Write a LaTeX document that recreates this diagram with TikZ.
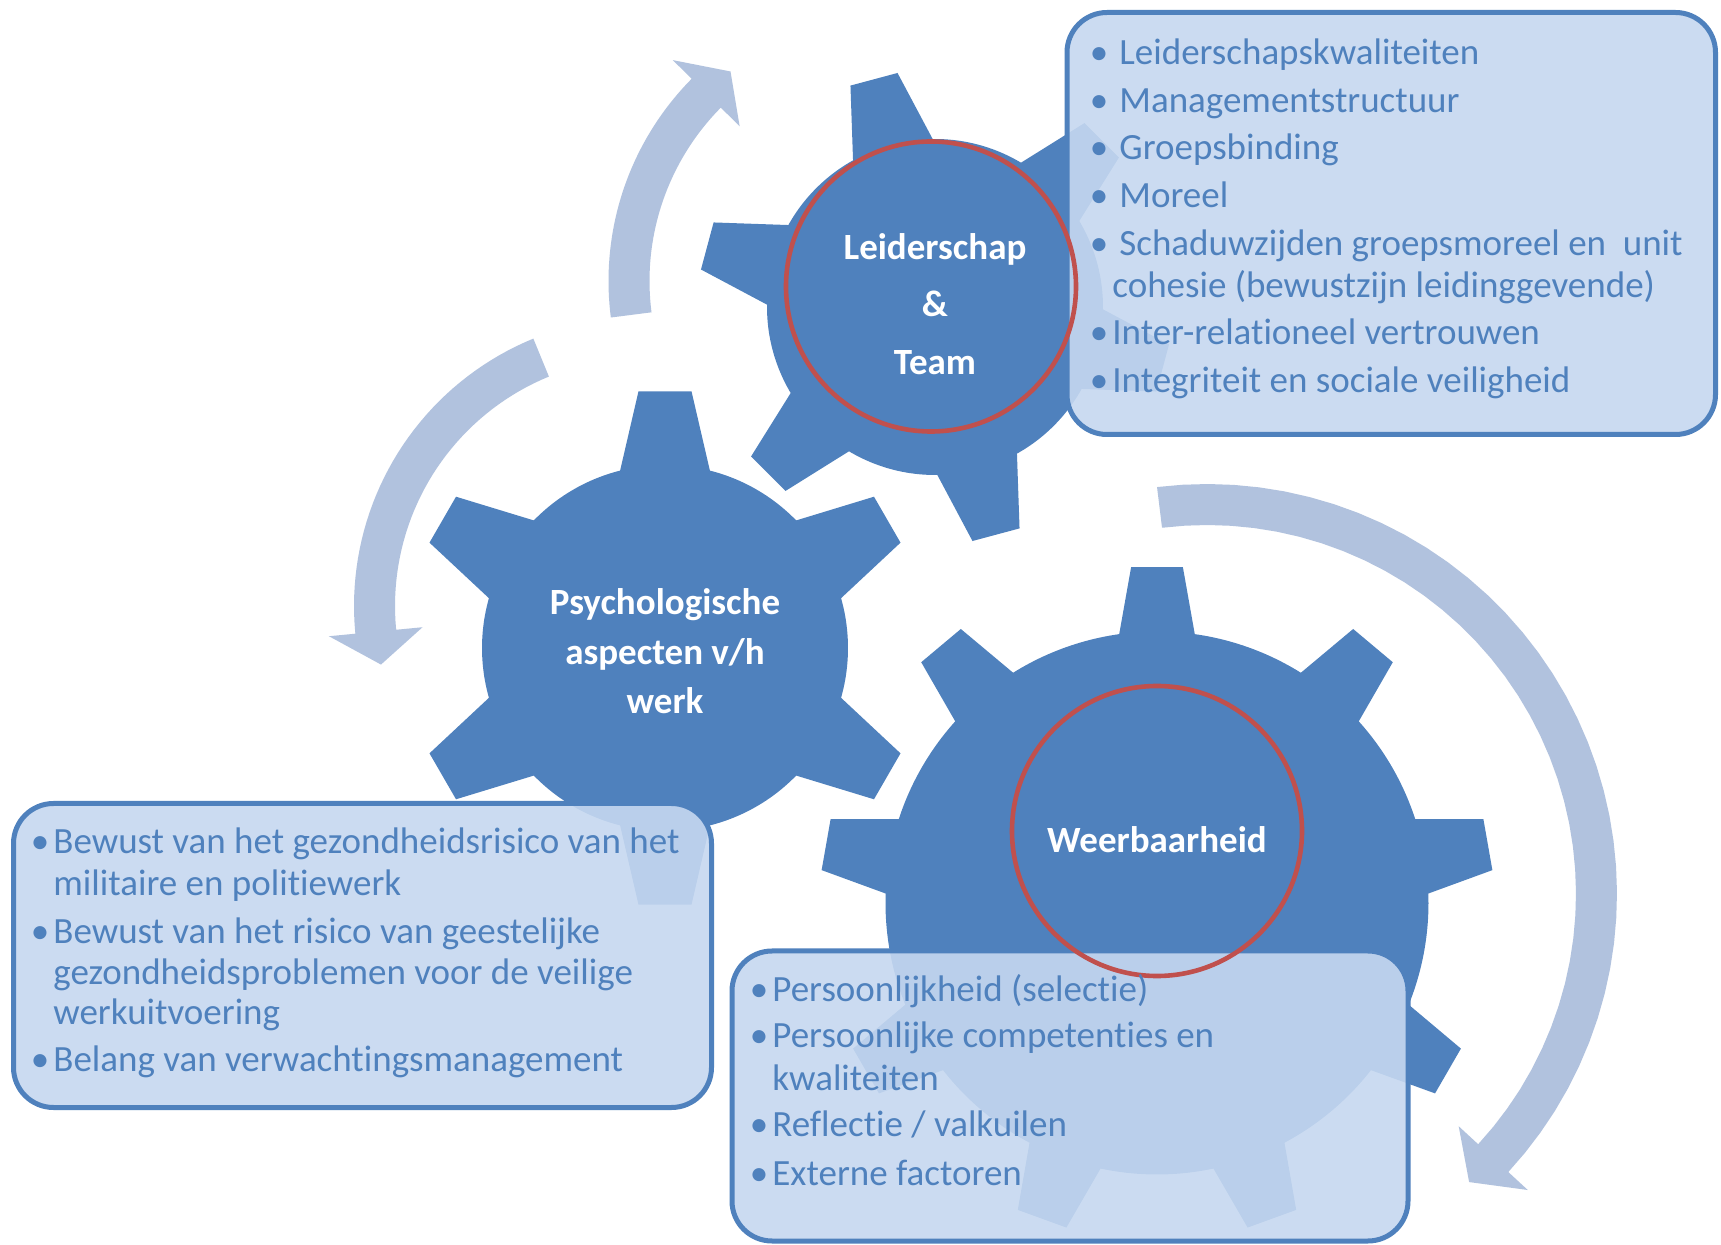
\documentclass[tikz,border=0pt]{standalone}
\usepackage{fontspec}
\setmainfont{Carlito}[RawFeature={-liga;-clig;-dlig;-calt}]
\definecolor{gearblue}{HTML}{4F81BD}
\definecolor{ringred}{HTML}{C0504D}
\definecolor{arrowgrey}{HTML}{B1C2DE}
\definecolor{boxfill}{HTML}{C6D8F0}
\definecolor{txtblue}{HTML}{4F81BD}

% cx cy R rt N lastidx phase tiphalf basehalf
\newcommand{\gearshape}[9]{%
  \fill[gearblue] ({#1+#3*cos(#7-#9)},{#2-#3*sin(#7-#9)})
  \foreach \gk [evaluate=\gk as \ga using #7+\gk*360/#5] in {0,...,#6} {
    -- ({#1+#4*cos(\ga-#8)},{#2-#4*sin(\ga-#8)})
    -- ({#1+#4*cos(\ga+#8)},{#2-#4*sin(\ga+#8)})
    -- ({#1+#3*cos(\ga+#9)},{#2-#3*sin(\ga+#9)})
    -- plot[domain=\ga+#9:\ga+360/#5-#9, samples=24, variable=\gx] ({#1+#3*cos(\gx)},{#2-#3*sin(\gx)})
  } -- cycle;
}
% cx cy r tail junction tip
\newcommand{\circarrow}[6]{%
  \fill[arrowgrey]
    plot[domain=#4:#5, samples=40, variable=\ax] ({#1+(#3+20.5)*cos(\ax)},{#2-(#3+20.5)*sin(\ax)})
    -- ({#1+(#3+47)*cos(#5)},{#2-(#3+47)*sin(#5)})
    -- ({#1+#3*cos(#6)},{#2-#3*sin(#6)})
    -- ({#1+(#3-47)*cos(#5)},{#2-(#3-47)*sin(#5)})
    -- plot[domain=#5:#4, samples=40, variable=\ax] ({#1+(#3-20.5)*cos(\ax)},{#2-(#3-20.5)*sin(\ax)})
    -- cycle;
}

\tikzset{
  glabel/.style={anchor=base, inner sep=0, text=white, font=\fontsize{18.5}{21}\selectfont\bfseries},
  itemtxt/.style={anchor=base west, inner sep=0, text=txtblue, font=\fontsize{18.5}{21}\selectfont},
  bul/.style={anchor=base, inner sep=0, text=txtblue, font=\fontsize{18.5}{21}\selectfont},
  infobox/.style={rectangle, draw=gearblue, line width=2.5pt, fill=boxfill, fill opacity=0.9, rounded corners=20pt, inner sep=0},
  ring/.style={circle, draw=ringred, line width=2.3pt, inner sep=0, minimum size=145pt},
}

\begin{document}
\begin{tikzpicture}[x=0.5pt, y=-0.5pt]
\useasboundingbox (0,0) rectangle (1721,1245);
\fill[white] (0,0) rectangle (1721,1245);

% circular arrows
\circarrow{896}{281}{267}{187.3}{135.3}{128.3}
\circarrow{643}{606}{268.5}{112.3}{185.5}{192.6}
\circarrow{1207}{894}{389.5}{97}{-42.7}{-47.7}

% gears
\gearshape{935}{307}{168}{237}{6}{5}{45}{5.9}{14.2}
\gearshape{665}{648}{183}{258}{6}{5}{30}{5.9}{14.2}
\gearshape{1157}{903}{271.5}{337}{9}{8}{10}{4.4}{8.0}

% text boxes
\node[infobox, minimum width=324.25pt, minimum height=211pt] (boxTR) at (1391.25,223.5) {};
\node[infobox, minimum width=349pt, minimum height=152pt] (boxBL) at (362.5,955.5) {};
\node[infobox, minimum width=338pt, minimum height=145pt] (boxBR) at (1070,1096) {};

% red rings
\node[ring] (ring1) at (931,286.5) {};
\node[ring] (ring3) at (1157,831) {};

% gear labels
\node[glabel] (g1a) at (935,260) {Leiderschap};
\node[glabel] (g1b) at (935,317) {\&};
\node[glabel] (g1c) at (935,375) {Team};
\node[glabel] (g2a) at (665,615) {Psychologische};
\node[glabel] (g2b) at (665,665) {aspecten v/h};
\node[glabel] (g2c) at (665,714) {werk};
\node[glabel] (g3a) at (1157,852.5) {Weerbaarheid};

% top right list
\node[bul] (tb1) at (1099,65) {•};
\node[bul] (tb2) at (1099,113) {•};
\node[bul] (tb3) at (1099,160) {•};
\node[bul] (tb4) at (1099,207.5) {•};
\node[bul] (tb5) at (1099,255.5) {•};
\node[bul] (tb6) at (1099,344.5) {•};
\node[bul] (tb7) at (1099,393) {•};
\node[itemtxt] (tt1) at (1119,65) {Leiderschapskwaliteiten};
\node[itemtxt] (tt2) at (1119,113) {Managementstructuur};
\node[itemtxt] (tt3) at (1119,160) {Groepsbinding};
\node[itemtxt] (tt4) at (1119,207.5) {Moreel};
\node[itemtxt] (tt5) at (1119,255.5) {Schaduwzijden groepsmoreel en\ \ unit};
\node[itemtxt] (tt5b) at (1112,297.5) {cohesie (bewustzijn leidinggevende)};
\node[itemtxt] (tt6) at (1112,344.5) {Inter-relationeel vertrouwen};
\node[itemtxt] (tt7) at (1112,393) {Integriteit en sociale veiligheid};

% bottom left list
\node[bul] (lb1) at (40,854) {•};
\node[bul] (lb2) at (40,943.5) {•};
\node[bul] (lb3) at (40,1072) {•};
\node[itemtxt] (lt1) at (53,854) {Bewust van het gezondheidsrisico van het};
\node[itemtxt] (lt1b) at (53,895.5) {militaire en politiewerk};
\node[itemtxt] (lt2) at (53,943.5) {Bewust van het risico van geestelijke};
\node[itemtxt] (lt2b) at (53,984.5) {gezondheidsproblemen voor de veilige};
\node[itemtxt] (lt2c) at (53,1025) {werkuitvoering};
\node[itemtxt] (lt3) at (53,1072) {Belang van verwachtingsmanagement};

% bottom right list
\node[bul] (rb1) at (759,1001) {•};
\node[bul] (rb2) at (759,1048) {•};
\node[bul] (rb3) at (759,1137) {•};
\node[bul] (rb4) at (759,1185) {•};
\node[itemtxt] (rt1) at (772,1001) {Persoonlijkheid (selectie)};
\node[itemtxt] (rt2) at (772,1048) {Persoonlijke competenties en};
\node[itemtxt] (rt2b) at (772,1090) {kwaliteiten};
\node[itemtxt] (rt3) at (772,1137) {Reflectie / valkuilen};
\node[itemtxt] (rt4) at (772,1185) {Externe factoren};
\end{tikzpicture}
\end{document}
